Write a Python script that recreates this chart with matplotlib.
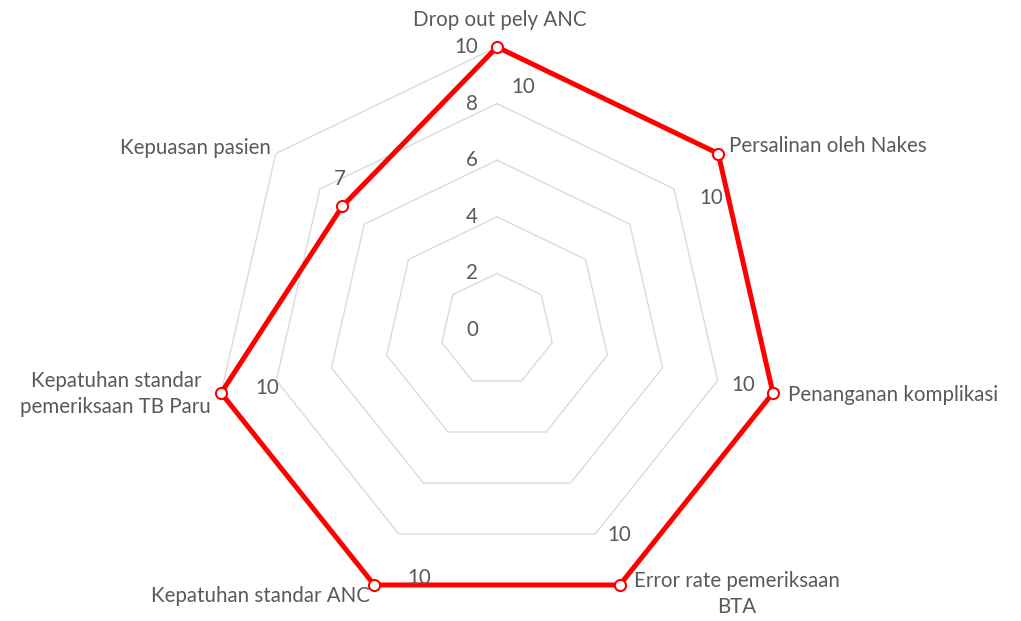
import numpy as np
import matplotlib
matplotlib.use("Agg")
import matplotlib.pyplot as plt

categories = ["Drop out pely ANC", "Persalinan oleh Nakes", "Penanganan komplikasi",
              "Error rate pemeriksaan\nBTA", "Kepatuhan standar ANC",
              "Kepatuhan standar\npemeriksaan TB Paru", "Kepuasan pasien"]
values = [10, 10, 10, 10, 10, 10, 7]
ticks = [0, 2, 4, 6, 8, 10]

plt.rcParams['font.family'] = ['Lato', 'DejaVu Sans']
TXT = '#595959'
FS = 14.8

fig = plt.figure(figsize=(10.21, 6.21), dpi=100)
ax = fig.add_axes([0.2096, 0.0129, 0.5544, 0.9114], projection='polar')
ax.set_theta_offset(np.pi / 2)
ax.set_theta_direction(-1)
ax.set_ylim(0, 10)
ax.grid(False)
ax.spines['polar'].set_visible(False)
ax.set_xticks([])
ax.set_yticks([])
ax.patch.set_alpha(0)

n = len(categories)
theta = np.arange(n) * 2 * np.pi / n
tc = np.append(theta, theta[0])

for t in ticks[1:]:
    ax.plot(tc, [t] * (n + 1), color='#D9D9D9', lw=0.95, zorder=1)

for t in ticks:
    ax.annotate(str(t), xy=(0, t), xytext=(-19, 0), textcoords='offset pixels',
                ha='right', va='center', fontsize=FS, color=TXT)

vc = values + [values[0]]
ax.plot(tc, vc, color='#FF0000', lw=3.6, zorder=3, clip_on=False)
ax.plot(theta, values, ls='none', marker='o', ms=8, mfc='white', mec='#FF0000',
        mew=1.5, zorder=4, clip_on=False)

# data labels
dl_off = [(26, -40), (-7, -44), (-30, 8), (-1, 50), (45, 7), (46, 5), (-2, 27)]
for th, v, (dx, dy) in zip(theta, values, dl_off):
    ax.annotate(str(v), xy=(th, v), xytext=(dx, dy), textcoords='offset pixels',
                ha='center', va='center', fontsize=FS, color=TXT)

# category labels
cat_pos = [((3, 27), 'center', 'center'),
           ((11, 8), 'left', 'center'),
           ((15, -2), 'left', 'center'),
           ((117, -9), 'center', 'center'),
           ((-4, -11), 'right', 'center'),
           ((-10, -1), 'right', 'center'),
           ((-5, 6), 'right', 'center')]
for th, lab, ((dx, dy), ha, va) in zip(theta, categories, cat_pos):
    ax.annotate(lab, xy=(th, 10), xytext=(dx, dy), textcoords='offset pixels',
                ha=ha, va=va, fontsize=FS, color=TXT, multialignment='center',
                linespacing=1.42)

fig.savefig('out.png', dpi=100)
